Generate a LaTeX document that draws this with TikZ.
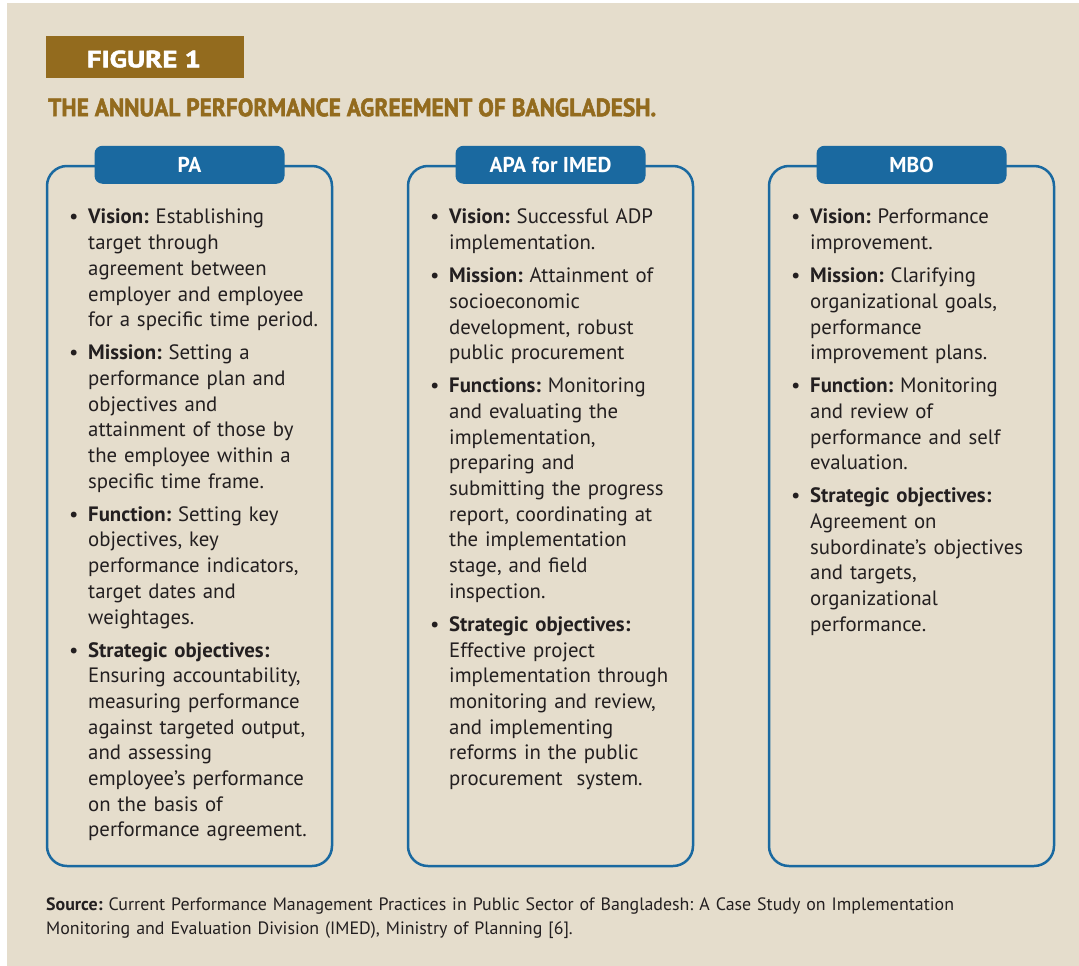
\documentclass[tikz,border=0pt]{standalone}
\usepackage{fontspec}
\setmainfont{PT Sans}
\newfontfamily\heavyfont[FakeBold=2]{PT Sans}
\definecolor{bgc}{HTML}{E5DDCC}
\definecolor{goldc}{HTML}{936B1E}
\definecolor{bluec}{HTML}{1A69A0}
\definecolor{inkc}{HTML}{231F20}
\newcommand{\colitem}[2]{\par\hangindent=19pt\hangafter=1\noindent\makebox[19pt][l]{\rule{0pt}{20pt}\textbullet}\textbf{#1} #2}
\newcommand{\itemgap}{\par\vspace{7.3pt}}
\tikzset{
  colbox/.style={draw=bluec, line width=2.5pt, rounded corners=20pt, minimum width=285pt, minimum height=700pt, inner sep=0pt},
  tabbox/.style={fill=bluec, rounded corners=8pt, minimum width=190pt, minimum height=38pt, inner sep=0pt, text=white, font=\fontsize{21.5}{21.5}\selectfont\bfseries},
  coltext/.style={anchor=north west, inner sep=0pt, text width=262pt, align=left, text=inkc, font=\fontsize{20.8}{25.7}\selectfont}
}
\begin{document}
\frenchspacing
\begin{tikzpicture}[x=1pt,y=-1pt]
\useasboundingbox (0,0) rectangle (1079,966);
\fill[bgc] (7,3) rectangle (1079,966);
% heading
\node[fill=goldc, minimum width=198pt, minimum height=42pt, inner sep=0pt, anchor=north west] (figbox) at (46,36) {};
\node[text=white, anchor=base west, inner sep=0pt] (figlbl) at (86.7,67.3) {\resizebox{114pt}{16.8pt}{\heavyfont\bfseries FIGURE 1}};
\node[text=goldc, anchor=base west, inner sep=0pt] (title) at (48,116.2) {\resizebox{608pt}{17.9pt}{\heavyfont\bfseries THE ANNUAL PERFORMANCE AGREEMENT OF BANGLADESH.}};
% columns
\node[colbox] (c1) at (189.5,516) {};
\node[colbox] (c2) at (550.5,516) {};
\node[colbox] (c3) at (911.5,516) {};
\node[tabbox] (h1) at (c1.north) {PA};
\node[tabbox] (h2) at (c2.north) {APA for IMED};
\node[tabbox] (h3) at (c3.north) {MBO};
% column texts
\node[coltext] (t1) at (69,198) {%
\colitem{Vision:}{Establishing\newline target through\newline agreement between\newline employer and employee\newline for a specific time period.}\itemgap
\colitem{Mission:}{Setting a\newline performance plan and\newline objectives and\newline attainment of those by\newline the employee within a\newline specific time frame.}\itemgap
\colitem{Function:}{Setting key\newline objectives, key\newline performance indicators,\newline target dates and\newline weightages.}\itemgap
\colitem{Strategic objectives:}{\newline Ensuring accountability,\newline measuring performance\newline against targeted output,\newline and assessing\newline employee’s performance\newline on the basis of\newline performance agreement.}\par};
\node[coltext] (t2) at (430,198) {%
\colitem{Vision:}{Successful ADP\newline implementation.}\itemgap
\colitem{Mission:}{Attainment of\newline socioeconomic\newline development, robust\newline public procurement}\itemgap
\colitem{Functions:}{Monitoring\newline and evaluating the\newline implementation,\newline preparing and\newline submitting the progress\newline report, coordinating at\newline the implementation\newline stage, and field\newline inspection.}\itemgap
\colitem{Strategic objectives:}{\newline Effective project\newline implementation through\newline monitoring and review,\newline and implementing\newline reforms in the public\newline procurement\ \ system.}\par};
\node[coltext] (t3) at (791,198) {%
\colitem{Vision:}{Performance\newline improvement.}\itemgap
\colitem{Mission:}{Clarifying\newline organizational goals,\newline performance\newline improvement plans.}\itemgap
\colitem{Function:}{Monitoring\newline and review of\newline performance and self\newline evaluation.}\itemgap
\colitem{Strategic objectives:}{\newline Agreement on\newline subordinate’s objectives\newline and targets,\newline organizational\newline performance.}\par};
% source
\node[anchor=north west, inner sep=0pt, text width=1020pt, align=left, text=inkc, font=\fontsize{17.9}{24}\selectfont] (src) at (46,894.5) {\rule{0pt}{16pt}\textbf{Source:} Current Performance Management Practices in Public Sector of Bangladesh: A Case Study on Implementation\newline Monitoring and Evaluation Division (IMED), Ministry of Planning [6].\par};
\end{tikzpicture}
\end{document}
